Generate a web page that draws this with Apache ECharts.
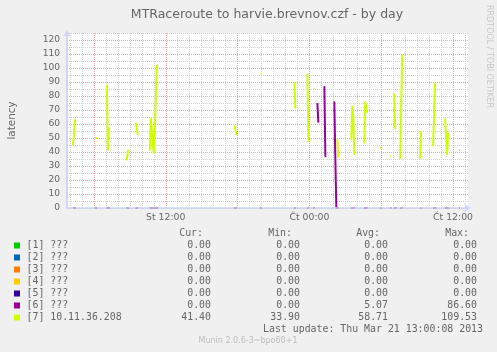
<!DOCTYPE html>
<html><head><meta charset="utf-8">
<script src="https://cdn.jsdelivr.net/npm/echarts@6/dist/echarts.min.js"></script>
<style>html,body{margin:0;padding:0;background:#f0f0f0}#c{width:497px;height:352px}</style>
</head><body><div id="c"></div>
<script>
// ---------- data ----------
const chartTitle = 'MTRaceroute to harvie.brevnov.czf - by day';
const yAxisName = 'latency';
const xTickLabels = { 12: 'St 12:00', 24: 'Čt 00:00', 36: 'Čt 12:00' }; // hours since St 00:00
const xMinHour = 3.75, xMaxHour = 37.25;
const yMin = 0, yMax = 125;

const hopNames = ['[1] ???', '[2] ???', '[3] ???', '[4] ???', '[5] ???', '[6] ???', '[7] 10.11.36.208'];
const hopColors = ['#00cc00', '#0066b3', '#ff8000', '#ffcc00', '#330099', '#990099', '#ccff00'];
const statHeaders = ['Cur:', 'Min:', 'Avg:', 'Max:'];
const curValues = [0, 0, 0, 0, 0, 0, 41.40];
const minValues = [0, 0, 0, 0, 0, 0, 33.90];
const avgValues = [0, 0, 0, 0, 0, 5.07, 58.71];
const maxValues = [0, 0, 0, 0, 0, 86.60, 109.53];
const lastUpdate = 'Last update: Thu Mar 21 13:00:08 2013';
const footer = 'Munin 2.0.6-3~bpo60+1';
const rrdCredit = 'RRDTOOL / TOBI OETIKER';

// samples: [first 5-minute sample index counted from St 00:00, consecutive values]
const hop7Segments = [
  [51, [45, 45, 63, 63]],
  [73, [50, 50, 50]],
  [85, [88, 41, 57, 57]],
  [105, [34, 41, 41]],
  [114, [61, 61, 52]],
  [128, [41, 64, 64, 64, 39, 53, 53, 102, 101]],
  [213, [59, 59, 52]],
  [239, [96, 96]],
  [273, [90, 71]],
  [286, [96, 47]],
  [292, [85, 85]],
  [316, [49, 36]],
  [330, [49, 73, 66, 38]],
  [343, [46, 76, 75, 68]],
  [359, [43, 43]],
  [369, [37, 37]],
  [373, [82, 57, 57]],
  [379, [35, 35, 109.53]],
  [399, [35, 55]],
  [412, [44, 44, 89, 89]],
  [424, [64, 64, 38, 53, 53]],
  [438, [41.4, 41.4]]
];
// hop 6 non-zero stretches (hop 6 is 0 whenever hop 7 answers)
const hop6Segments = [
  [296, [75, 61]],
  [303, [87, 37, 37]],
  [313, [76, 36, 0, 0]]
];

// ---------- build ----------
const STEP = 1 / 12;
function segMap(segs, zero, map) {
  const m = map || new Map();
  segs.forEach(([s, vals]) => vals.forEach((v, i) => m.set(s + i, zero ? 0 : v)));
  return m;
}
function toData(m) {
  const keys = [...m.keys()].sort((a, b) => a - b);
  const out = [];
  let prev = null;
  for (const k of keys) {
    if (prev !== null && k !== prev + 1) out.push([(prev + 1) * STEP, '-']);
    out.push([k * STEP, m.get(k)]);
    prev = k;
  }
  return out;
}
const seriesData = [];
for (let i = 0; i < 5; i++) seriesData.push(toData(segMap(hop7Segments, true)));
seriesData.push(toData(segMap(hop6Segments, false, segMap(hop7Segments, true))));
seriesData.push(toData(segMap(hop7Segments, false)));

// vertical grid colours cycle, ticks every 15 min starting at 03:45
const RED = '#f2a2a2', GRAY = '#cfcfcf', NONE = 'rgba(0,0,0,0)';
const xGridCycle = [];
for (let k = 0; k < 24; k++) {
  const h = xMinHour + k * 0.25;
  xGridCycle.push(h % 6 === 0 ? RED : (h % 1 === 0 ? GRAY : NONE));
}

const FONT = 'DejaVu Sans', TXT = '#666666', AXIS = '#CFD6F8';
const graphics = [
  { type: 'text', x: 267, y: 14.5, style: { text: chartTitle, font: '12.5px "DejaVu Sans"', fill: TXT, align: 'center', verticalAlign: 'middle' } },
  { type: 'text', x: 489, y: 5, rotation: -Math.PI / 2, style: { text: rrdCredit, font: '8px "DejaVu Sans"', fill: '#c8c8c8', align: 'left', verticalAlign: 'middle' } },
  { type: 'text', x: 248, y: 341, style: { text: footer, font: '8px "DejaVu Sans"', fill: '#bdbdbd', align: 'center', verticalAlign: 'middle' } },
  { type: 'text', x: 483, y: 329.5, style: { text: lastUpdate, font: '9.9px "DejaVu Sans Mono"', fill: TXT, align: 'right', verticalAlign: 'middle' } }
];
const headerX = [203, 292, 380, 469];
const valueX = [211, 300, 388, 477];
statHeaders.forEach((h, j) => graphics.push({ type: 'text', x: headerX[j], y: 233.5, style: { text: h, font: '9.9px "DejaVu Sans Mono"', fill: TXT, align: 'right', verticalAlign: 'middle' } }));
const stats = [curValues, minValues, avgValues, maxValues];
hopNames.forEach((n, i) => {
  const cy = 245.5 + 12 * i;
  graphics.push({ type: 'rect', shape: { x: 14, y: cy - 3, width: 6, height: 6 }, style: { fill: hopColors[i] } });
  graphics.push({ type: 'text', x: 26.5, y: cy, style: { text: n, font: '9.9px "DejaVu Sans Mono"', fill: TXT, align: 'left', verticalAlign: 'middle' } });
  stats.forEach((arr, j) => graphics.push({ type: 'text', x: valueX[j], y: cy, style: { text: arr[i].toFixed(2), font: '9.9px "DejaVu Sans Mono"', fill: TXT, align: 'right', verticalAlign: 'middle' } }));
});

const chart = echarts.init(document.getElementById('c'), null, { renderer: 'canvas' });
chart.setOption({
  backgroundColor: '#f0f0f0',
  animation: false,
  grid: { left: 67, right: 29, top: 33, bottom: 144, show: true, backgroundColor: '#ffffff', borderWidth: 0, containLabel: false, outerBoundsMode: 'none' },
  xAxis: [{
    type: 'value', min: xMinHour, max: xMaxHour, interval: 0.25, position: 'bottom',
    axisLine: { show: false },
    axisTick: { show: false },
    splitLine: { show: true, lineStyle: { color: xGridCycle, type: [1, 1], width: 1 } },
    axisLabel: {
      margin: 5.5, color: TXT, fontFamily: FONT, fontSize: 9.3, showMinLabel: true, showMaxLabel: true,
      formatter: v => xTickLabels[Math.round(v * 4) / 4] || ''
    }
  }, {
    // axis line drawn over the data, as rrdtool does
    type: 'value', min: xMinHour, max: xMaxHour, position: 'bottom', offset: 0, z: 10,
    axisLine: { show: true, lineStyle: { color: AXIS, width: 2, opacity: 0.75 }, symbol: ['none', 'arrow'], symbolSize: [6, 7], symbolOffset: [0, 3] },
    axisTick: { show: false }, splitLine: { show: false }, axisLabel: { show: false }
  }],
  yAxis: {
    type: 'value', min: yMin, max: yMax, interval: 5,
    name: yAxisName, nameLocation: 'middle', nameGap: 50, nameRotate: 90,
    nameTextStyle: { color: TXT, fontFamily: FONT, fontSize: 10.4 },
    axisLine: { show: true, lineStyle: { color: AXIS, width: 2 }, symbol: ['none', 'arrow'], symbolSize: [6, 7], symbolOffset: [0, 3] },
    axisTick: { show: false },
    splitLine: { show: true, lineStyle: { color: [RED, GRAY], type: [1, 1], width: 1 } },
    axisLabel: { margin: 7, color: TXT, fontFamily: FONT, fontSize: 9.1, formatter: v => (v % 10 === 0 ? String(v) : '') }
  },
  series: seriesData.map((d, i) => ({
    type: 'line', name: hopNames[i], data: d, showSymbol: false, symbol: 'none', xAxisIndex: 0,
    connectNulls: false, lineStyle: { color: hopColors[i], width: 2 }, itemStyle: { color: hopColors[i] },
    z: 2 + i * 0.01
  })),
  graphic: graphics
});
</script></body></html>
